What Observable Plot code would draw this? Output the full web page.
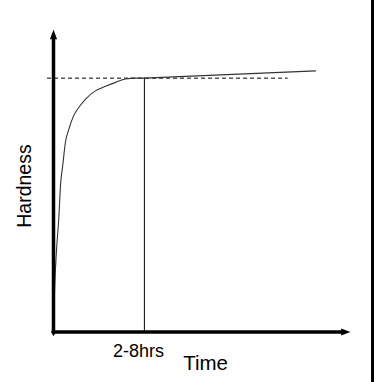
<!DOCTYPE html>
<html>
<head>
<meta charset="utf-8">
<script src="https://cdn.jsdelivr.net/npm/d3@7"></script>
<script src="https://cdn.jsdelivr.net/npm/@observablehq/plot@0.6"></script>
<style>
  html, body { margin: 0; padding: 0; background: #fff; }
  #wrap { position: relative; width: 376px; height: 382px; overflow: hidden; }
  #edge { position: absolute; left: 371px; top: 0; width: 3px; height: 382px; background: #000; }
</style>
</head>
<body>
<div id="wrap"><div id="edge"></div></div>
<script>
// Hardness development curve (arbitrary units 0–100)
const curveTime     = [0, 0.1, 0.44, 1.0, 1.8, 2.4, 3.1, 4.0, 5.2, 6.8, 8.5, 10.8, 14.1, 17.5, 20.9, 24.2, 27.6, 30.6];
const curveHardness = [0, 4.9, 16, 26.9, 37.9, 49.1, 55, 62.7, 67.2, 71.6, 74.3, 77.1, 79.8, 81.3, 82.6, 83.7, 84.0, 84.0];
const tailTime     = [30.6, 88.2];
const tailHardness = [84.0, 86.4];
const plateauTime = 30.6;      // "2-8hrs" marker
const plateauHardness = 84;    // level of the dashed reference
const dashedSpan = [-2, 79];
const axisMax = 100;
const labels = {tick: "2-8hrs", x: "Time", y: "Hardness"};

const curve = curveTime.map((t, i) => ({t, h: curveHardness[i]}));
const tail = tailTime.map((t, i) => ({t, h: tailHardness[i]}));

// narrow filled arrowhead, tip at the anchor point, pointing up
const arrowHead = {
  draw(context, size) {
    const r = Math.sqrt(size / Math.PI);
    const L = 2.6 * r, w = 1.0 * r;
    context.moveTo(0, 0);
    context.lineTo(-w, L);
    context.lineTo(w, L);
    context.closePath();
  }
};

const chart = Plot.plot({
  width: 376,
  height: 382,
  margin: 0,
  style: {fontFamily: "'Liberation Sans', Arial, sans-serif", background: "transparent", color: "#000"},
  x: {domain: [0, axisMax], range: [53, 350], axis: null},
  y: {domain: [0, axisMax], range: [331.5, 29.3], axis: null},
  marks: [
    // dashed plateau reference
    Plot.ruleY([plateauHardness], {x1: dashedSpan[0], x2: dashedSpan[1], stroke: "#000", strokeWidth: 1, strokeDasharray: "4,3"}),
    // vertical marker
    Plot.ruleX([plateauTime], {y1: 0, y2: plateauHardness, stroke: "#000", strokeWidth: 1}),
    // curve
    Plot.line(curve, {x: "t", y: "h", curve: "monotone-x", stroke: "#333", strokeWidth: 1.1}),
    Plot.line(tail, {x: "t", y: "h", stroke: "#333", strokeWidth: 1.1}),
    // axes shafts
    Plot.link([0], {x1: 0, y1: 0, x2: 0, y2: axisMax - 2.5, stroke: "#000", strokeWidth: 3.5}),
    Plot.link([0], {x1: 0, y1: 0, x2: axisMax - 2.5, y2: 0, stroke: "#000", strokeWidth: 3.5}),
    // arrow heads
    Plot.dot([0], {x: 0, y: axisMax, symbol: arrowHead, r: 3.6, fill: "#000", stroke: "none"}),
    Plot.dot([0], {x: axisMax, y: 0, symbol: arrowHead, r: 3.6, fill: "#000", stroke: "none", rotate: 90}),
    Plot.dot([0], {x: 0, y: 0, symbol: "diamond", r: 2.6, fill: "#000", stroke: "none"}),
    // labels
    Plot.text([labels.tick], {x: 28.6, y: -8.2, text: d => d, fontSize: 18, textAnchor: "middle", lineAnchor: "bottom", fill: "#000"}),
    Plot.text([labels.x], {x: 51.2, y: -12.7, text: d => d, fontSize: 20.5, textAnchor: "middle", lineAnchor: "bottom", fill: "#000"}),
    Plot.text([labels.y], {x: -9.8, y: 48.3, text: d => d, fontSize: 19.5, rotate: -90, textAnchor: "middle", lineAnchor: "middle", fill: "#000"})
  ]
});
document.getElementById("wrap").prepend(chart);
</script>
</body>
</html>
